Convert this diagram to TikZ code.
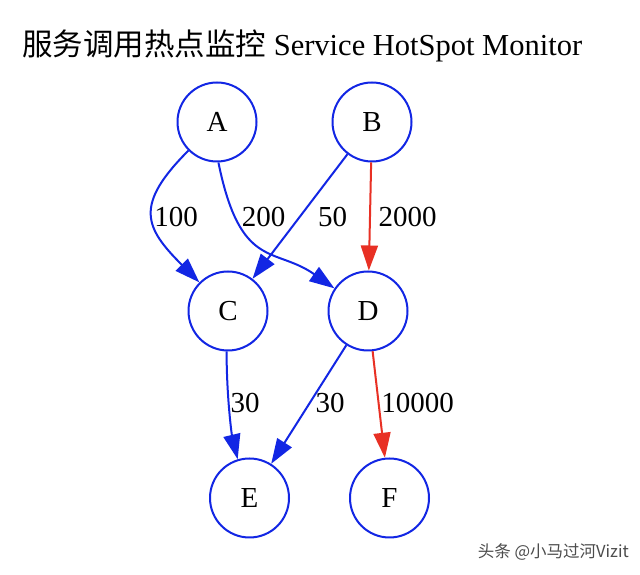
\documentclass[tikz,border=0pt]{standalone}
\usepackage{fontspec}
\setmainfont{Liberation Serif}
\newfontfamily\cjk{Noto Sans CJK SC}
\usetikzlibrary{arrows.meta}
\definecolor{gvblue}{RGB}{18,38,228}
\definecolor{gvred}{RGB}{232,48,36}
\tikzset{
  vtx/.style={circle, draw=gvblue, line width=2pt, minimum size=79pt, inner sep=0pt,
    font=\fontsize{29}{34}\selectfont},
  bedge/.style={draw=gvblue, line width=2pt, -{Triangle[length=25pt,width=17pt]}},
  redge/.style={draw=gvred, line width=2pt, -{Triangle[length=25pt,width=17pt]}},
  wlab/.style={anchor=base, inner sep=0pt, font=\fontsize{29}{34}\selectfont},
}
\begin{document}
\begin{tikzpicture}[x=1pt,y=1pt]
\useasboundingbox[fill=white] (0,0) rectangle (640,575);
\node[anchor=base west, inner sep=0pt, font=\fontsize{30.5}{36}\selectfont] (title) at (22,519)
  {{\cjk 服务调用热点监控} Service HotSpot Monitor};
\node[vtx] (A) at (217,453) {A};
\node[vtx] (B) at (372,453) {B};
\node[vtx] (C) at (228,264) {C};
\node[vtx] (D) at (368,264) {D};
\node[vtx] (E) at (249.5,77) {E};
\node[vtx] (F) at (389.5,77) {F};
\draw[bedge] (A) to[out=-135,in=135,looseness=1.5] (C);
\draw[bedge] (A.-88) .. controls +(22,-108) and +(-60,42) .. (D.146);
\draw[bedge] (B) -- (C);
\draw[redge] (B) -- (D);
\draw[bedge] (C.-92) .. controls +(0,-45) and +(-6,25) .. (E.107);
\draw[bedge] (D) -- (E);
\draw[redge] (D) -- (F);
\node[wlab] (l1) at (176,348) {100};
\node[wlab] (l2) at (263.5,348) {200};
\node[wlab] (l3) at (332.5,348) {50};
\node[wlab] (l4) at (407.5,348) {2000};
\node[wlab] (l5) at (245,162) {30};
\node[wlab] (l6) at (330,162) {30};
\node[wlab] (l7) at (417.5,162) {10000};
\node[anchor=base east, inner sep=0pt, text=black!70, font=\cjk\fontsize{16.5}{18}\selectfont] (wm) at (629,17) {头条 @小马过河Vizit};
\end{tikzpicture}
\end{document}
